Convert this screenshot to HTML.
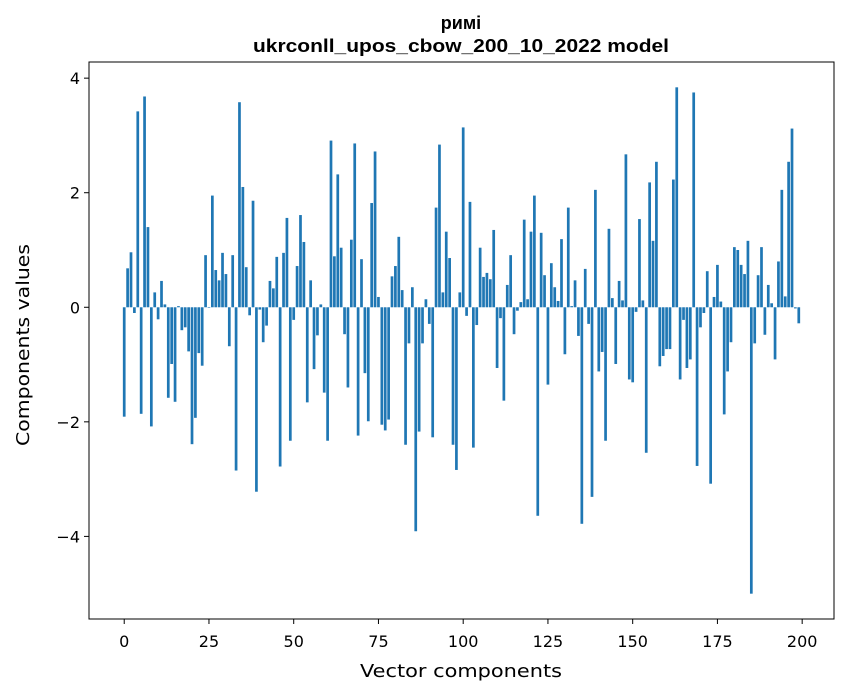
<!DOCTYPE html>
<html><head><meta charset="utf-8">
<style>
html,body{margin:0;padding:0;background:#fff;}
svg{display:block;font-family:"DejaVu Sans","Liberation Sans",sans-serif;}
</style></head>
<body>
<svg id="chart" width="847" height="696" viewBox="0 0 847 696">
  <text x="461" y="29" text-anchor="middle" font-size="18" font-weight="bold" font-family="Liberation Sans, sans-serif">римі</text>
  <text x="461" y="52" text-anchor="middle" font-size="18" font-weight="bold" font-family="Liberation Sans, sans-serif" textLength="416" lengthAdjust="spacingAndGlyphs">ukrconll_upos_cbow_200_10_2022 model</text>
  <g id="bars"></g>
  <g id="xticks"></g>
  <g id="yticks"></g>
  <rect x="89" y="62" width="745" height="557" fill="none" stroke="#000" stroke-width="1"/>
  <text x="461" y="677" text-anchor="middle" font-size="18" textLength="202" lengthAdjust="spacingAndGlyphs">Vector components</text>
  <text transform="translate(29,345) rotate(-90)" text-anchor="middle" font-size="18" textLength="202" lengthAdjust="spacingAndGlyphs">Components values</text>
</svg>
<script>
const values = [
-1.91,0.68,0.96,-0.1,3.42,-1.86,3.68,1.40,-2.08,0.26,
-0.21,0.46,0.05,-1.58,-0.99,-1.65,0.02,-0.4,-0.35,-0.77,
-2.39,-1.93,-0.8,-1.02,0.91,-0.01,1.95,0.65,0.47,0.95,
0.58,-0.68,0.91,-2.85,3.58,2.1,0.7,-0.14,1.86,-3.22,
-0.04,-0.61,-0.32,0.46,0.33,0.88,-2.78,0.95,1.56,-2.33,
-0.22,0.72,1.61,1.14,-1.66,0.47,-1.08,-0.49,0.05,-1.49,
-2.33,2.91,0.89,2.32,1.04,-0.47,-1.40,1.18,2.86,-2.24,
0.84,-1.15,-1.99,1.82,2.72,0.18,-2.05,-2.15,-1.96,0.54,
0.72,1.23,0.30,-2.40,-0.63,0.35,-3.91,-2.17,-0.63,0.14,
-0.29,-2.27,1.74,2.84,0.26,1.32,0.86,-2.40,-2.84,0.26,
3.14,-0.15,1.84,-2.45,-0.31,1.04,0.53,0.60,0.49,1.35,
-1.06,-0.19,-1.63,0.39,0.91,-0.47,-0.06,0.09,1.53,0.14,
1.32,1.95,-3.64,1.30,0.56,-1.35,0.77,0.35,0.11,1.19,
-0.82,1.74,0.02,0.47,-0.5,-3.78,0.67,-0.29,-3.31,2.05,
-1.12,-0.78,-2.33,1.37,0.16,-0.99,0.46,0.12,2.67,-1.26,
-1.31,-0.08,1.54,0.12,-2.54,2.18,1.16,2.54,-1.03,-0.85,
-0.73,-0.73,2.23,3.84,-1.26,-0.22,-1.06,-0.91,3.75,-2.77,
-0.35,-0.1,0.63,-3.08,0.18,0.74,0.10,-1.87,-1.12,-0.61,
1.05,1.0,0.74,0.58,1.16,-5.0,-0.63,0.56,1.05,-0.48,
0.39,0.07,-0.91,0.80,2.05,0.19,2.54,3.12,-0.02,-0.28
];
const xTickLabels = [0,25,50,75,100,125,150,175,200];
const yTickLabels = [-4,-2,0,2,4];

const NS = "http://www.w3.org/2000/svg";
const L = 89, R = 834, T = 62, B = 619;
const barW = 0.8;
const xMinD = -barW/2, xMaxD = values.length - 1 + barW/2;
const xPad = (xMaxD - xMinD) * 0.05;
const xMin = xMinD - xPad, xMax = xMaxD + xPad;
const vMin = Math.min(0, ...values), vMax = Math.max(0, ...values);
const yPad = (vMax - vMin) * 0.05;
const yMin = vMin - yPad, yMax = vMax + yPad;
function xs(v){ return L + (v - xMin) / (xMax - xMin) * (R - L); }
function ys(v){ return B - (v - yMin) / (yMax - yMin) * (B - T); }

const gb = document.getElementById('bars');
values.forEach((v, i) => {
  const r = document.createElementNS(NS, 'rect');
  const x0 = xs(i - barW/2), x1 = xs(i + barW/2);
  const y0 = ys(Math.max(0, v)), y1 = ys(Math.min(0, v));
  r.setAttribute('x', x0);
  r.setAttribute('width', x1 - x0);
  r.setAttribute('y', y0);
  r.setAttribute('height', Math.max(0, y1 - y0));
  r.setAttribute('fill', '#1f77b4');
  
  
  gb.appendChild(r);
});

const gx = document.getElementById('xticks');
xTickLabels.forEach(t => {
  const x = xs(t);
  const ln = document.createElementNS(NS, 'line');
  ln.setAttribute('x1', x); ln.setAttribute('x2', x);
  ln.setAttribute('y1', B); ln.setAttribute('y2', B + 5);
  ln.setAttribute('stroke', '#000');
  
  
  gx.appendChild(ln);
  const tx = document.createElementNS(NS, 'text');
  tx.setAttribute('x', x); tx.setAttribute('y', B + 28);
  tx.setAttribute('text-anchor', 'middle');
  tx.setAttribute('font-size', '16');
  tx.textContent = String(t);
  
  
  gx.appendChild(tx);
});

const gy = document.getElementById('yticks');
yTickLabels.forEach(t => {
  const y = ys(t);
  const ln = document.createElementNS(NS, 'line');
  ln.setAttribute('x1', L - 5); ln.setAttribute('x2', L);
  ln.setAttribute('y1', y); ln.setAttribute('y2', y);
  ln.setAttribute('stroke', '#000');
  
  
  gy.appendChild(ln);
  const tx = document.createElementNS(NS, 'text');
  tx.setAttribute('x', L - 9); tx.setAttribute('y', y + 6);
  tx.setAttribute('text-anchor', 'end');
  tx.setAttribute('font-size', '16');
  tx.textContent = t < 0 ? '\u2212' + Math.abs(t) : String(t);
  
  
  gy.appendChild(tx);
});
</script>
</body></html>
